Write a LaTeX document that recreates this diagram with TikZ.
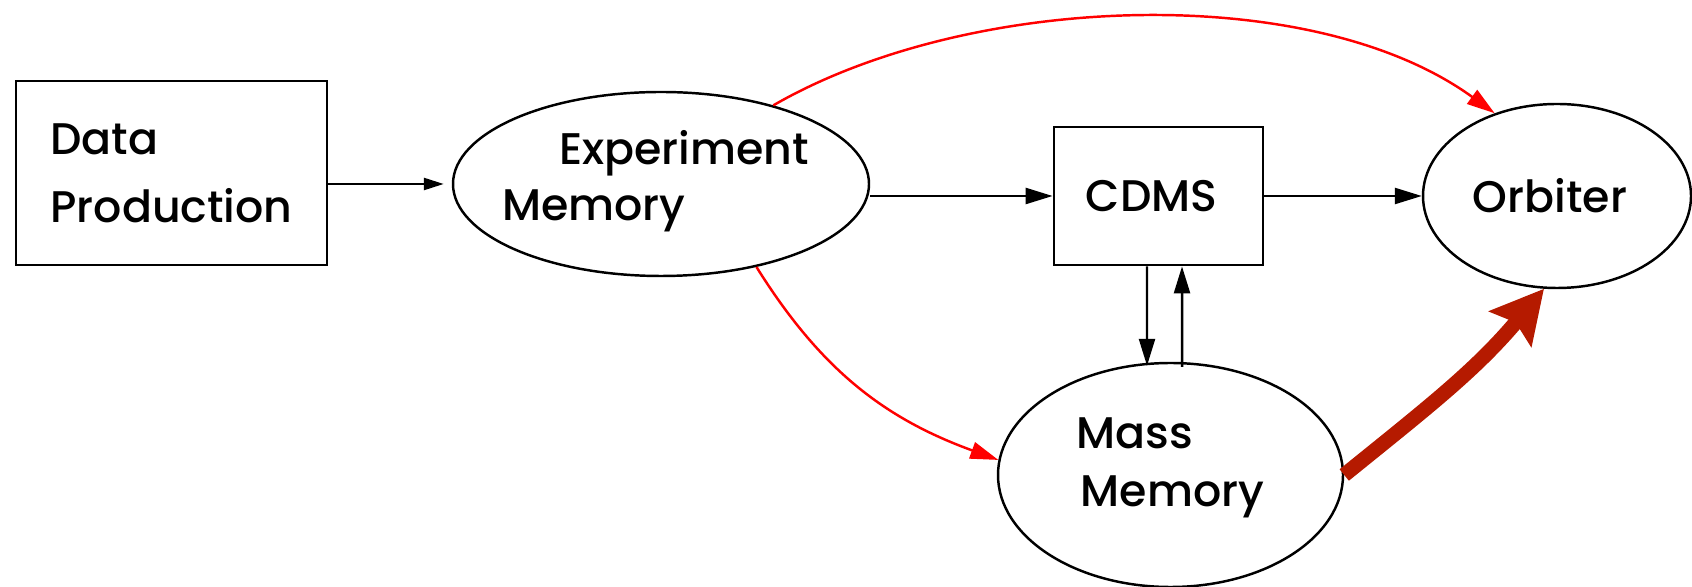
\documentclass[tikz,border=0pt]{standalone}
\usepackage{fontspec}
\setmainfont{Poppins}[UprightFont={* Medium}]
\usetikzlibrary{arrows.meta, shapes.geometric}

\definecolor{thickred}{RGB}{181,26,0}

\begin{document}
\begin{tikzpicture}[
    every node/.style={font=\fontsize{12.6}{16}\selectfont, line width=0.8pt, inner sep=0pt},
    box/.style={draw, rectangle},
    blob/.style={draw, ellipse, line width=0.7pt},
    flow/.style={-{Triangle[length=2.7mm, width=1.6mm]}, line width=0.7pt},
    redflow/.style={flow, red, -{Triangle[length=2.8mm, width=1.7mm]}},
    bigflow/.style={-{Stealth[length=5.2mm, width=5.4mm, inset=0.8mm]}, line width=4.2pt, color=thickred}]
    \useasboundingbox (0,0) rectangle (16.92,-5.87);

    \node [box, minimum width=3.11cm, minimum height=1.84cm, align=left, font=\fontsize{12.6}{19.3}\selectfont] (dp) at (1.715,-1.73) {Data\\Production};
    \node [blob, minimum width=4.16cm, minimum height=1.84cm] (em) at (6.61,-1.84) {};
    \node [align=left, font=\fontsize{12.6}{15.9}\selectfont] (em-text) at ([xshift=-0.055cm, yshift=0.03cm]em.center) {\hspace*{5.7mm}Experiment\\Memory};
    \node [box, minimum width=2.09cm, minimum height=1.38cm] (cdms) at (11.585,-1.96) {CDMS\hspace*{1.4mm}};
    \node [blob, minimum width=2.68cm, minimum height=1.84cm] (orb) at (15.57,-1.96) {Orbiter\hspace*{1.4mm}};
    \node [blob, minimum width=3.45cm, minimum height=2.24cm] (mm) at (11.705,-4.75) {};
    \node [align=left, font=\fontsize{12.6}{16.5}\selectfont] (mm-text) at ([yshift=0.07cm]mm.center) {Mass\\\hspace*{0.4mm}Memory};

    \draw [flow, -{Triangle[length=2mm, width=1.2mm]}, shorten >=0.8mm] (dp.east |- em.west) -- (em.west);
    \draw [flow] (em.east |- cdms.west) -- (cdms.west);
    \draw [flow] (cdms.east) -- (orb.west);
    \draw [flow] ([xshift=-1.15mm]cdms.south) -- ([xshift=-2.35mm, yshift=-0.4mm]mm.north);
    \draw [flow] ([xshift=1.15mm, yshift=-0.5mm]mm.north) -- ([xshift=2.35mm]cdms.south);
    \draw [redflow] (em.35) to [out=30, in=144, looseness=0.8] (orb.127);
    \draw [redflow] (em.-41) to [out=-58, in=160, looseness=1.0] (mm.175);
    \draw [bigflow] (mm.east) to [out=39, in=-130] (orb.-98);
\end{tikzpicture}
\end{document}
